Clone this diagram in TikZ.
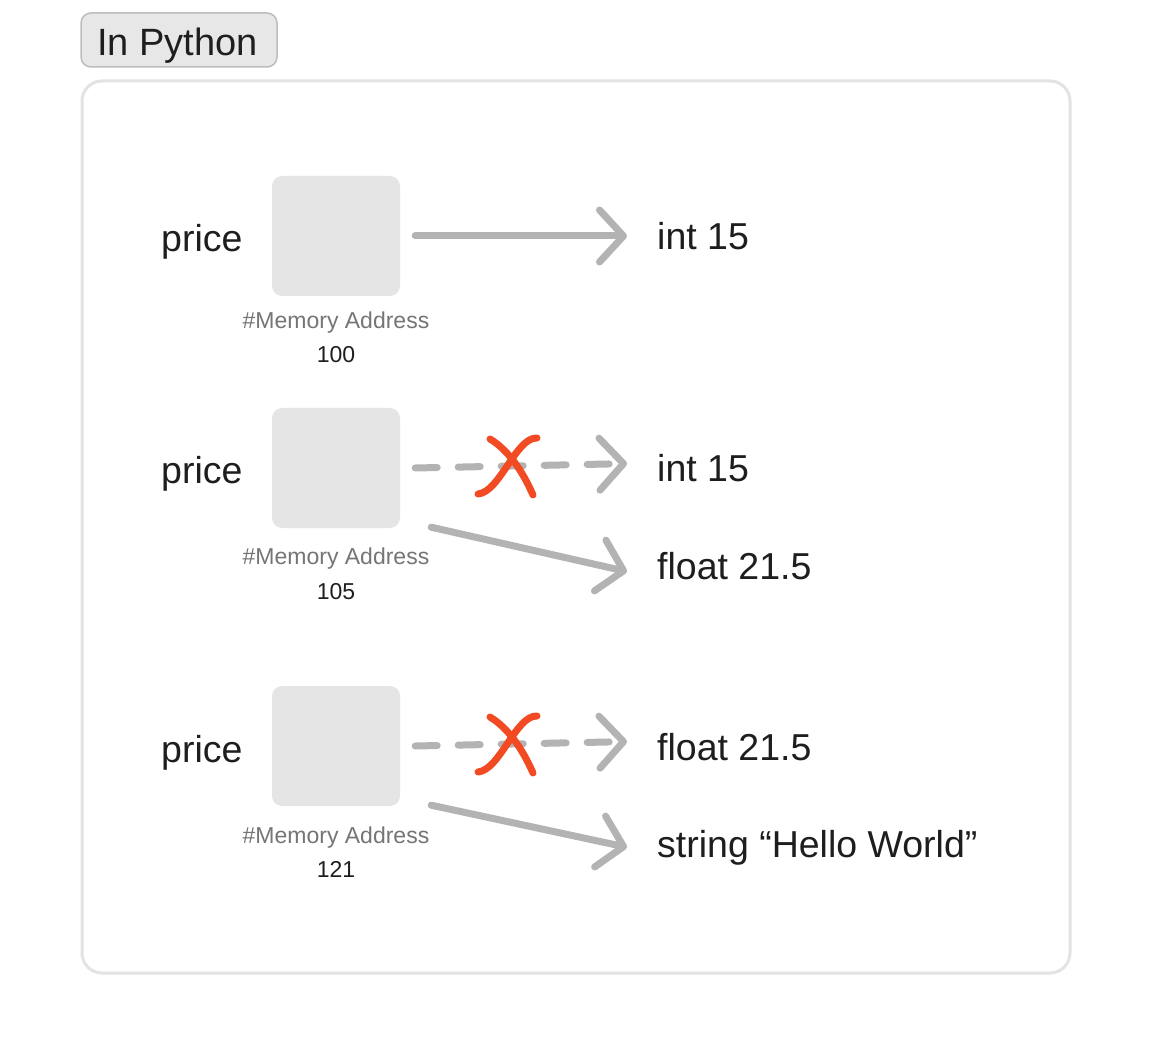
\documentclass[tikz,border=0pt]{standalone}
\usepackage{fontspec}
\setmainfont{Liberation Sans}
\usetikzlibrary{arrows.meta,calc}
\definecolor{txt}{HTML}{1E1E1E}
\definecolor{subtxt}{HTML}{757575}
\definecolor{conncol}{HTML}{B3B3B3}
\definecolor{crosscol}{HTML}{F24A22}
\definecolor{boxfill}{HTML}{E5E5E5}
\definecolor{framecol}{HTML}{E3E3E3}
\definecolor{tagfill}{HTML}{E7E7E7}
\definecolor{tagline}{HTML}{BDBDBD}
\begin{document}
\begin{tikzpicture}[x=1pt,y=-1pt,
 big/.style={font=\fontsize{37.5}{44}\selectfont, text=txt, inner sep=0pt, anchor=base west},
 small/.style={font=\fontsize{23}{27}\selectfont, inner sep=0pt, anchor=base},
 membox/.style={rectangle, rounded corners=10pt, fill=boxfill, minimum width=128pt, minimum height=120pt, inner sep=0pt},
 link/.style={draw=conncol, line width=7pt, line cap=round, line join=round, -{Straight Barb[length=24pt,width=52pt,line cap=round,line join=round]}},
 dashlink/.style={link, dash pattern=on 22pt off 21pt},
 crossline/.style={draw=crosscol, line width=7pt, line cap=round}
]
\useasboundingbox[fill=white] (0,0) rectangle (1152,1056);

% title tag
\node[draw=tagline, fill=tagfill, line width=1.5pt, rounded corners=10pt, minimum width=196pt, minimum height=54pt, inner sep=0pt] (tag) at (179,40) {};
\node[font=\fontsize{38}{44}\selectfont, text=txt, inner sep=0pt, anchor=base] (tagtext) at (177.5,56) {In Python};

% frame
\draw[framecol, line width=3pt, rounded corners=20pt] (82,81) rectangle (1070,973);

% ---------- row 1 ----------
\node[big] (p1) at (161,252) {price};
\node[membox] (b1) at (336,236) {};
\node[small, text=subtxt] (m1) at (336,329) {\#Memory Address};
\node[small, text=txt] (a1) at (336,363) {100};
\node[big] (t1) at (657,250) {int 15};
\draw[link] ($(b1.east)+(15,0)$) -- ($(b1.east -| t1.west)+(-30,0)$);

% ---------- row 2 ----------
\node[big] (p2) at (161,484) {price};
\node[membox] (b2) at (336,468) {};
\node[small, text=subtxt] (m2) at (336,565) {\#Memory Address};
\node[small, text=txt] (a2) at (336,599) {105};
\node[big] (t2) at (657,482) {int 15};
\node[big] (u2) at (657,579) {float 21.5};
\draw[dashlink] ($(b2.east)+(15,0)$) -- ($(t2.west)+(-30,-5)$);
\draw[link] ($(b2.south east)+(31,-1)$) -- ($(u2.west)+(-30,6)$);
\draw[crossline] (490,439) .. controls (508,450) and (522,470) .. (533,495);
\draw[crossline] (537,438) .. controls (516,437) and (500,492) .. (478,494);

% ---------- row 3 ----------
\node[big] (p3) at (161,762) {price};
\node[membox] (b3) at (336,746) {};
\node[small, text=subtxt] (m3) at (336,843) {\#Memory Address};
\node[small, text=txt] (a3) at (336,877) {121};
\node[big] (t3) at (657,760) {float 21.5};
\node[big] (u3) at (657,857) {string “Hello World”};
\draw[dashlink] ($(b3.east)+(15,0)$) -- ($(t3.west)+(-30,-5)$);
\draw[link] ($(b3.south east)+(31,-1)$) -- ($(u3.west)+(-30,0)$);
\draw[crossline] (490,717) .. controls (508,728) and (522,748) .. (533,773);
\draw[crossline] (537,716) .. controls (516,715) and (500,770) .. (478,772);
\end{tikzpicture}
\end{document}
